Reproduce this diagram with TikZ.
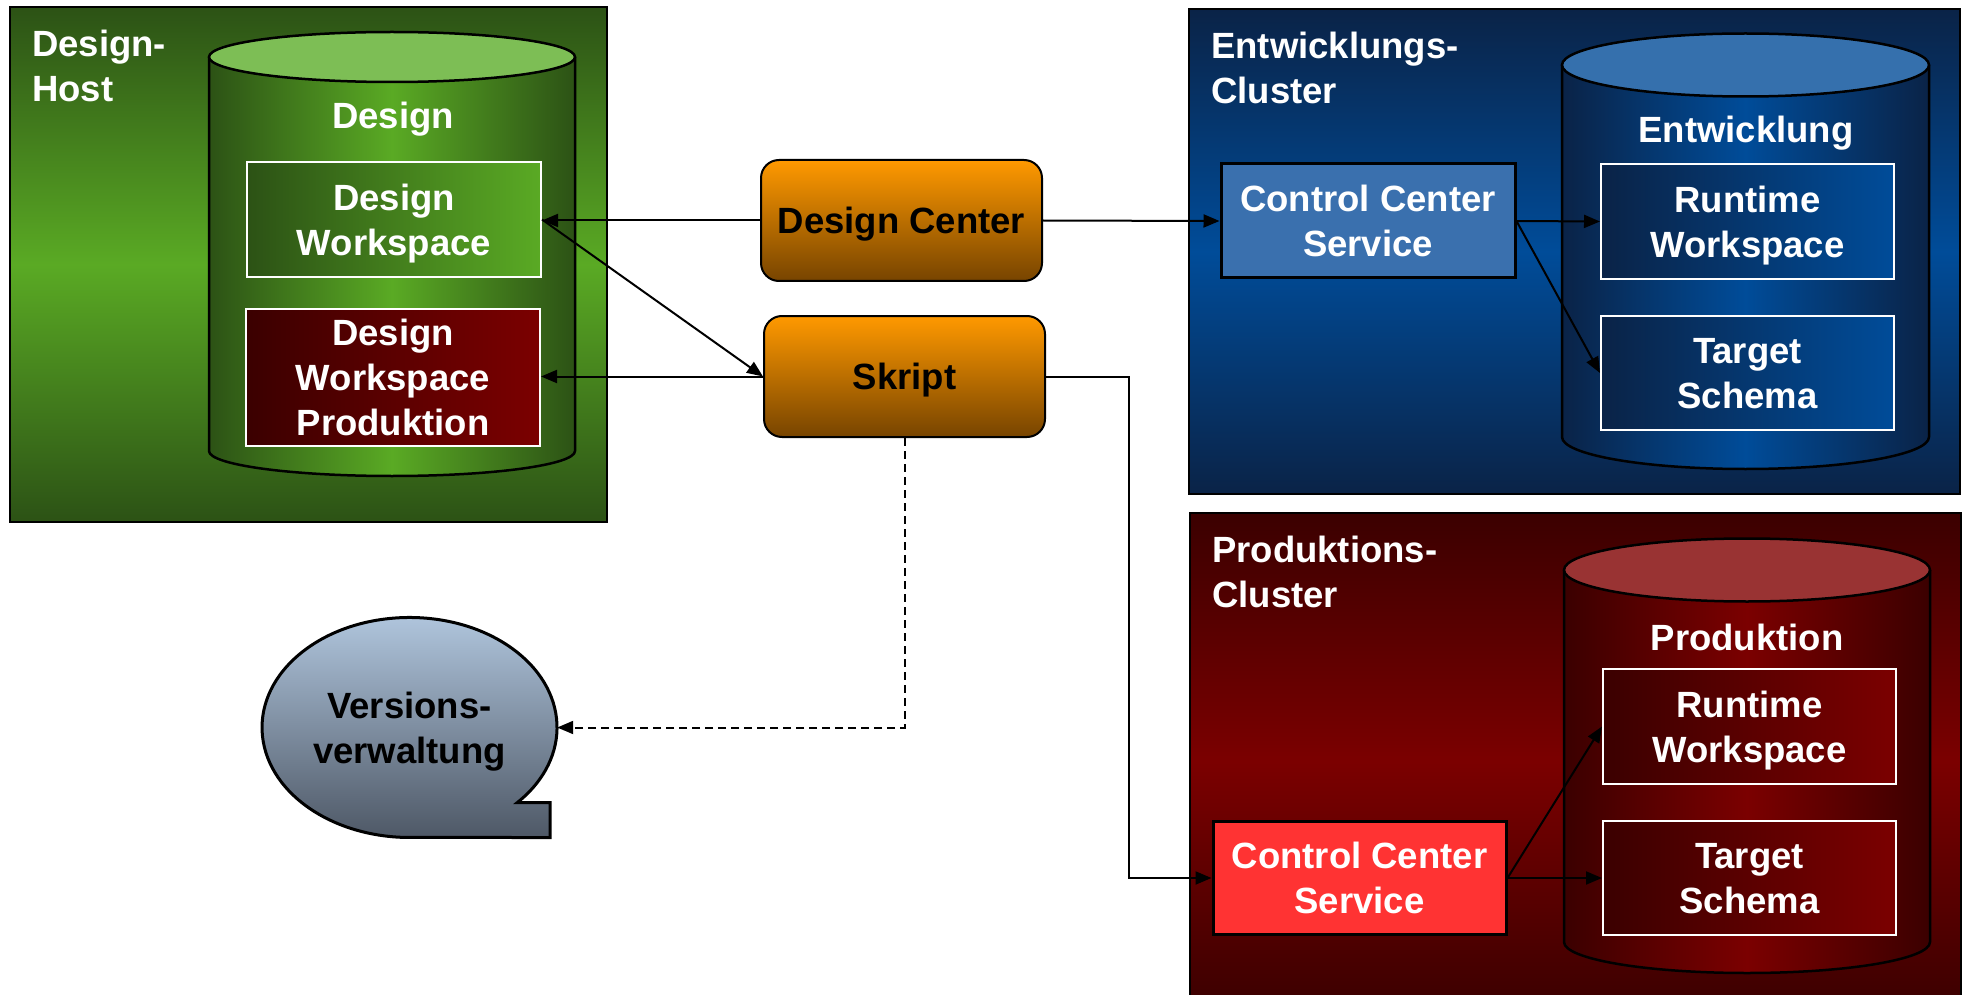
\documentclass[tikz,border=0pt]{standalone}
\usepackage{fontspec}
\setmainfont{Liberation Sans}
\usetikzlibrary{arrows.meta,shapes.geometric}
\definecolor{gD}{HTML}{2C5215}
\definecolor{gB}{HTML}{5AAA24}
\definecolor{gT}{HTML}{7DBE55}
\definecolor{bD}{HTML}{0A2347}
\definecolor{bM}{HTML}{004C99}
\definecolor{bT}{HTML}{3570AD}
\definecolor{bC}{HTML}{3A70AE}
\definecolor{rD}{HTML}{3B0000}
\definecolor{rM}{HTML}{7B0000}
\definecolor{rT}{HTML}{993333}
\definecolor{rC}{HTML}{FF3333}
\definecolor{oT}{HTML}{FF9900}
\definecolor{oB}{HTML}{774400}
\definecolor{cT}{HTML}{B4CAE2}
\definecolor{cB}{HTML}{4E5866}
\begin{document}
\begin{tikzpicture}[x=1pt,y=1pt,
  txt/.style={font=\fontsize{36.5}{45}\selectfont\bfseries, text=white},
  inbox/.style={txt, draw=white, line width=2pt, minimum width=293pt, minimum height=115pt, inner sep=0pt, align=center, text depth=0pt},
  ccs/.style={txt, draw=black, line width=3pt, minimum width=294pt, minimum height=114pt, inner sep=0pt, align=center, text depth=0pt},
  rbox/.style={txt, text=black, draw=black, line width=2pt, rounded corners=18pt, top color=oT, bottom color=oB, minimum width=281pt, minimum height=121pt, inner sep=0pt, text depth=0pt},
  title/.style={txt, anchor=north west, align=left, inner sep=0pt},
  lab/.style={txt, anchor=base, inner sep=0pt},
  arr/.style={line width=2pt, -{Triangle[length=16pt,width=13pt]}},
  outer/.style={draw=black, line width=2.5pt},
  cyl/.style={draw=black, line width=2.5pt}
]
\clip (0,0) rectangle (1966,-995);
\fill[white] (0,0) rectangle (1966,-995);

% ---------- outer boxes ----------
\shade[top color=gD, bottom color=gD, middle color=gB] (10,-7) rectangle (607,-522);
\draw[outer] (10,-7) rectangle (607,-522);
\shade[top color=bD, bottom color=bD, middle color=bM] (1189,-9) rectangle (1960,-494);
\draw[outer] (1189,-9) rectangle (1960,-494);
\shade[top color=rD, bottom color=rD, middle color=rM] (1190,-513) rectangle (1961,-1010);
\draw[outer] (1190,-513) rectangle (1961,-1010);

% ---------- cylinders ----------
% green
\shade[left color=gD, right color=gD, middle color=gB] (209,-57) -- (209,-451) arc[start angle=180, end angle=360, x radius=183pt, y radius=25pt] -- (575,-57) -- cycle;
\draw[cyl] (209,-57) -- (209,-451) arc[start angle=180, end angle=360, x radius=183pt, y radius=25pt] -- (575,-57);
\filldraw[cyl, fill=gT] (392,-57) ellipse[x radius=183pt, y radius=25pt];
% blue
\shade[left color=bD, right color=bD, middle color=bM] (1562,-65) -- (1562,-437) arc[start angle=180, end angle=360, x radius=183.5pt, y radius=32pt] -- (1929,-65) -- cycle;
\draw[cyl] (1562,-65) -- (1562,-437) arc[start angle=180, end angle=360, x radius=183.5pt, y radius=32pt] -- (1929,-65);
\filldraw[cyl, fill=bT] (1745.5,-65) ellipse[x radius=183.5pt, y radius=31.5pt];
% red
\shade[left color=rD, right color=rD, middle color=rM] (1564,-570) -- (1564,-942) arc[start angle=180, end angle=360, x radius=183pt, y radius=31pt] -- (1930,-570) -- cycle;
\draw[cyl] (1564,-570) -- (1564,-942) arc[start angle=180, end angle=360, x radius=183pt, y radius=31pt] -- (1930,-570);
\filldraw[cyl, fill=rT] (1747,-570) ellipse[x radius=183pt, y radius=31.5pt];

% ---------- callout shape ----------
\shadedraw[top color=cT, bottom color=cB, draw=black, line width=3pt]
  (517.4,-802.5) arc[start angle=-43, end angle=270, x radius=147.5pt, y radius=110pt]
  -- (550,-837.5) -- (550,-802.5) -- cycle;

% ---------- titles and labels ----------
\node[title] (tHost) at (32,-30) {Design-\\Host};
\node[title] (tEnt) at (1211,-32) {Entwicklungs-\\Cluster};
\node[title] (tProd) at (1212,-536) {Produktions-\\Cluster};
\node[lab] (lDesign) at (393,-129) {Design};
\node[lab] (lEnt) at (1746,-143) {Entwicklung};
\node[lab] (lProd) at (1747,-650) {Produktion};

% ---------- nodes ----------
\node[inbox, left color=gD, right color=gB, minimum width=294pt] (dw) at (394,-219.5) {Design\\Workspace};
\node[inbox, left color=rD, right color=rM, minimum width=294pt, minimum height=137pt] (dwp) at (393,-377.5) {Design\\Workspace\\Produktion};
\node[rbox] (dc) at (901.5,-220.5) {Design Center};
\node[rbox] (skript) at (904.5,-376.5) {Skript};
\node[txt, text=black, ellipse, minimum width=295pt, minimum height=220pt, inner sep=0pt, align=center, text depth=0pt] (vv) at (409.5,-727.5) {Versions-\\verwaltung};

\node[ccs, fill=bC] (ccsE) at (1368,-221) {Control Center\\Service};
\node[inbox, left color=bD, right color=bM] (rwE) at (1747.5,-221.5) {Runtime\\Workspace};
\node[inbox, left color=bD, right color=bM, minimum height=114pt] (tsE) at (1747.5,-373) {Target\\Schema};

\node[ccs, fill=rC, minimum width=293pt, minimum height=113pt] (ccsP) at (1359.5,-878) {Control Center\\Service};
\node[inbox, left color=rD, right color=rM] (rwP) at (1749.5,-726.5) {Runtime\\Workspace};
\node[inbox, left color=rD, right color=rM, minimum height=114pt] (tsP) at (1749.5,-878) {Target\\Schema};

% ---------- connectors ----------
\coordinate (kink) at (1129,-376.5);
\draw[arr] (dc.west) -- (dc.west -| dw.east);
\draw[arr] (dc.east) -- (ccsE.west);
\draw[arr] (dw.east) -- (skript.west);
\draw[arr] (skript.west) -- (skript.west -| dwp.east);
\draw[arr] (skript.east) -- (kink) |- (ccsP.west);
\draw[arr, dash pattern=on 8pt off 5pt] (skript.south) |- (vv.east);
\draw[arr] (ccsE.east) -- (rwE.west);
\draw[arr] (ccsE.east) -- (tsE.west);
\draw[arr] (ccsP.east) -- (tsP.west);
\draw[arr] (ccsP.east) -- (rwP.west);
\end{tikzpicture}
\end{document}
